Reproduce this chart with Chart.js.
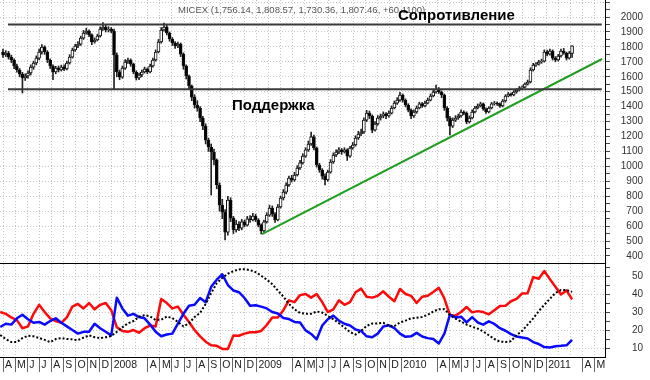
<!DOCTYPE html>
<html><head><meta charset="utf-8">
<script src="https://cdn.jsdelivr.net/npm/chart.js@4.4.1/dist/chart.umd.min.js"></script>
<style>
html,body{margin:0;padding:0;background:#fff;}
#wrap{position:relative;width:650px;height:380px;overflow:hidden;background:#fff;}
#top{position:absolute;left:0;top:0;width:650px;height:264px;}
#bot{position:absolute;left:0;top:264px;width:650px;height:116px;}
.lbl{position:absolute;font-family:"Liberation Sans",Arial,sans-serif;white-space:nowrap;line-height:1;}
#ttl{left:178px;top:5px;font-size:9.5px;color:#555;}
#res{left:398px;top:7px;font-size:15px;font-weight:bold;color:#000;}
#sup{left:232px;top:97px;font-size:15px;font-weight:bold;color:#000;}
</style></head>
<body><div id="wrap">
<canvas id="top" width="650" height="264"></canvas>
<canvas id="bot" width="650" height="116"></canvas>
<div class="lbl" id="ttl">MICEX (1,756.14, 1,808.57, 1,730.36, 1,807.46, +60.1100)</div>
<div class="lbl" id="res">Сопротивление</div>
<div class="lbl" id="sup">Поддержка</div>
</div>
<script>
// Weekly MICEX candles, first week = early April 2007
const opens = [
1766,1746,1759,1732,1712,1672,1645,1618,1592,1605,
1625,1665,1692,1725,1766,1799,1766,1712,1672,1632,
1658,1645,1665,1652,1692,1732,1779,1806,1819,1859,
1893,1906,1880,1833,1846,1873,1920,1933,1913,1920,
1906,1746,1632,1598,1658,1699,1712,1685,1632,1592,
1612,1632,1652,1632,1672,1712,1766,1833,1913,1933,
1893,1853,1826,1806,1819,1752,1672,1605,1538,1464,
1411,1391,1324,1270,1176,1130,1096,1043,875,741,
694,560,775,654,574,614,587,628,607,648,
641,668,641,607,567,628,674,721,681,641,
728,788,828,875,922,909,942,989,1023,1069,
1110,1150,1197,1123,1009,976,935,909,962,1029,
1076,1096,1110,1096,1110,1069,1123,1143,1190,1217,
1230,1310,1357,1337,1243,1284,1324,1337,1351,1337,
1357,1391,1424,1444,1478,1444,1411,1377,1337,1364,
1391,1418,1404,1424,1444,1471,1498,1518,1498,1478,
1391,1324,1270,1310,1324,1337,1364,1357,1297,1324,
1364,1391,1404,1418,1384,1364,1391,1418,1424,1418,
1404,1438,1471,1484,1478,1498,1511,1525,1531,1551,
1565,1645,1679,1685,1699,1705,1766,1752,1772,1725,
1712,1739,1772,1759,1725,1756];
const closes = [
1746,1759,1732,1712,1672,1645,1618,1592,1605,1625,
1665,1692,1725,1766,1799,1766,1712,1672,1632,1658,
1645,1665,1652,1692,1732,1779,1806,1819,1859,1893,
1906,1880,1833,1846,1873,1920,1933,1913,1920,1906,
1746,1632,1598,1658,1699,1712,1685,1632,1592,1612,
1632,1652,1632,1672,1712,1766,1833,1913,1933,1893,
1853,1826,1806,1819,1752,1672,1605,1538,1464,1411,
1391,1324,1270,1176,1130,1096,1043,875,741,694,
560,775,654,574,614,587,628,607,648,641,
668,641,607,567,628,674,721,681,641,728,
788,828,875,922,909,942,989,1023,1069,1110,
1150,1197,1123,1009,976,935,909,962,1029,1076,
1096,1110,1096,1110,1069,1123,1143,1190,1217,1230,
1310,1357,1337,1243,1284,1324,1337,1351,1337,1357,
1391,1424,1444,1478,1444,1411,1377,1337,1364,1391,
1418,1404,1424,1444,1471,1498,1518,1498,1478,1391,
1324,1270,1310,1324,1337,1364,1357,1297,1324,1364,
1391,1404,1418,1384,1364,1391,1418,1424,1418,1404,
1438,1471,1484,1478,1498,1511,1525,1531,1551,1565,
1645,1679,1685,1699,1705,1766,1752,1772,1725,1712,
1739,1772,1759,1725,1759,1807];
const highs = [
1785,1775,1770,1745,1720,1685,1655,1630,1620,1640,
1680,1705,1740,1785,1815,1808,1775,1720,1680,1670,
1672,1678,1680,1705,1748,1792,1818,1835,1872,1910,
1925,1915,1888,1860,1885,1935,1962,1945,1935,1930,
1920,1760,1645,1672,1715,1725,1720,1692,1640,1625,
1645,1665,1660,1685,1725,1780,1850,1930,1960,1945,
1900,1862,1835,1832,1826,1760,1680,1612,1545,1480,
1440,1400,1335,1285,1190,1150,1115,1050,890,780,
710,800,790,665,640,630,645,640,665,670,
685,680,650,615,640,690,740,735,690,745,
800,845,890,935,940,960,1005,1040,1085,1125,
1170,1230,1210,1130,1020,985,950,975,1045,1090,
1110,1125,1120,1125,1118,1135,1160,1205,1235,1250,
1325,1375,1370,1345,1300,1340,1350,1365,1360,1372,
1405,1438,1460,1495,1485,1452,1420,1385,1378,1405,
1430,1428,1438,1458,1485,1512,1545,1528,1505,1485,
1400,1335,1325,1340,1350,1378,1372,1365,1338,1378,
1402,1418,1430,1425,1392,1400,1428,1435,1432,1425,
1448,1480,1495,1492,1508,1520,1535,1540,1560,1578,
1660,1690,1695,1710,1718,1780,1778,1785,1780,1735,
1750,1785,1790,1765,1770,1809];
const lows = [
1730,1735,1718,1695,1655,1630,1600,1491,1575,1590,
1612,1650,1680,1715,1752,1750,1695,1655,1580,1620,
1632,1638,1640,1645,1685,1725,1770,1795,1810,1850,
1885,1868,1815,1825,1840,1865,1910,1900,1900,1895,
1518,1600,1580,1590,1650,1690,1670,1620,1578,1580,
1600,1625,1620,1625,1665,1705,1760,1825,1905,1880,
1838,1810,1790,1795,1735,1650,1585,1515,1440,1390,
1370,1300,1245,1150,1100,808,1010,850,700,650,
507,540,630,550,560,570,575,595,600,625,
635,630,595,547,560,620,665,665,625,635,
720,775,815,865,895,900,935,980,1015,1060,
1100,1140,1110,995,960,915,875,900,955,1020,
1065,1085,1080,1090,1040,1060,1115,1135,1180,1205,
1220,1300,1320,1225,1235,1275,1310,1325,1320,1330,
1350,1385,1415,1435,1430,1398,1365,1320,1328,1355,
1385,1395,1398,1418,1438,1465,1490,1488,1460,1375,
1305,1210,1260,1300,1315,1330,1345,1285,1290,1318,
1358,1385,1398,1375,1355,1358,1385,1410,1408,1395,
1398,1430,1465,1470,1472,1490,1505,1518,1525,1545,
1558,1638,1670,1678,1690,1698,1740,1745,1712,1700,
1705,1732,1750,1712,1718,1730];

// Indicator panel (one value every 2 weeks, starting one week before the first candle)
const redLine = [
30,29,27,25.5,21,22,29,34,30,26.5,
25,24,27,33,34.5,32,35,31.5,34,35,
31,21.5,19.5,19,20,18.5,21,22.5,22,37.3,
35,32,33,28.5,24.5,20,16.5,13.5,11.5,11.2,
9.5,9.5,17,16.8,18,18.8,18.8,19.5,22.8,27,
27,31,36.5,35.5,39.4,40,38,40,35.5,30,
31.5,36.5,34,35.5,41,43,38.5,38,39,41.5,
38.5,36,42.8,40,39,35,38.5,39,41.1,43.5,
37.5,28.3,28,30,32.8,29.8,30.5,30,28.7,31,
33.4,33.5,36,37.3,40.3,40.5,49.4,48.5,52.8,48.3,
44,39.8,42,37];
const blueLine = [
21.7,23.5,23,26.5,28.5,26,24,24.5,23,25,
26.5,24,22,20,18,19,19,23.5,21,19,
17,38,32,28,29,27.2,26.5,23,19,16.5,
17.5,18,23.5,29,33.5,34,37.8,35.5,44,48,
51,45,42,41,37.8,33.5,33.8,33,32,30,
29.2,26.7,26.1,24.5,24.2,19.8,17.8,14.8,22.5,26,
28,25.2,23.5,22.5,20.3,19.5,16.5,16,18,22,
22.6,21,18,16.2,16.5,18.4,16.4,15.5,15,12.5,
18,28.5,27,27.4,24.2,27.2,24.2,23,24.8,23.4,
21,19.6,17.7,16.4,15.8,15.3,13.3,12.2,10.5,10.3,
11,11.2,11.5,14.5];
const blackLine = [
17.2,15,13.3,13.3,15.5,16.8,16.5,15.6,14.5,13.3,
15,15.5,15,14.8,14.4,15.8,17,16,15.5,16,
16.7,19,21.5,23.7,25,27.3,28.3,27.5,25.6,25.8,
27.5,26.6,24.5,22,23.7,27.2,29.5,34.5,40.5,46,
49,51.3,52.7,53.7,53.8,53.3,52.2,50.2,48,45.5,
42,38.6,34.5,31.5,29.5,29,29,30.3,29.7,27.8,
26,23.8,21.4,18.9,17.5,19.5,22.3,23.6,23.6,24,
22.4,22.2,24.2,25.2,26.5,26.8,27.3,28.5,30.3,31.6,
31.6,28.3,26.3,24.7,23,21.8,20.8,19.2,17.1,15,
13.6,13.3,13.8,17.2,19.5,23,26.5,30.5,34,37.3,
40.6,42.2,42.2,41.2];

// Month labels from April 2007 to May 2011
const monthLabels = ['A','M','J','J','A','S','O','N','D','2008','','',
  'A','M','J','J','A','S','O','N','D','2009','','',
  'A','M','J','J','A','S','O','N','D','2010','','',
  'A','M','J','J','A','S','O','N','D','2011','','',
  'A','M'];
const priceTickLabels = [400,500,600,700,800,900,1000,1100,1200,1300,1400,1500,1600,1700,1800,1900,2000];
const indicatorTickLabels = [10,20,30,40,50];

// Annotated levels (price) and trend line ([week, price])
const resistanceLevel = 1950;
const supportLevel = 1516;
const levelSpanWeeks = [1.8, 215.7];
const trendLine = [[93.3, 547], [215.8, 1719]];

const WEEKS_PER_MONTH = 52.18 / 12;
const INDICATOR_STEP = 2, INDICATOR_START = -1;
const X_MIN = -1.081, X_MAX = 216.86;
const FONT = '"Liberation Sans", Arial, sans-serif';
const GRID = '#c6c6c6';
const CLEAR = 'rgba(0,0,0,0)';

Chart.defaults.font.family = FONT;
Chart.defaults.animation = false;

const monthTicks = () => monthLabels.map((l, m) => ({value: m * WEEKS_PER_MONTH, name: l}));
const noPad = s => { s.paddingTop = 0; s.paddingBottom = 0; s.paddingLeft = 0; s.paddingRight = 0; };

const weekIdx = closes.map((_, i) => i);
const wickData = weekIdx.map(i => ({x: i, y: [lows[i], highs[i]]}));
const bodyData = weekIdx.map(i => ({x: i, y: [opens[i], closes[i]]}));
const bodyColors = weekIdx.map(i => closes[i] >= opens[i] ? '#ffffff' : '#000000');

const allPriceTicks = [];
priceTickLabels.forEach(v => { allPriceTicks.push(v); allPriceTicks.push(v + 50); });
allPriceTicks.push(2100);

new Chart(document.getElementById('top'), {
  type: 'bar',
  data: {
    datasets: [
      {type: 'line', data: levelSpanWeeks.map(w => ({x: w, y: resistanceLevel})), borderColor: '#3a3a3a', borderWidth: 2, pointRadius: 0},
      {type: 'line', data: levelSpanWeeks.map(w => ({x: w, y: supportLevel})), borderColor: '#3a3a3a', borderWidth: 2, pointRadius: 0},
      {type: 'line', data: trendLine.map(p => ({x: p[0], y: p[1]})), borderColor: '#1f9e1f', borderWidth: 2, pointRadius: 0},
      {type: 'bar', data: bodyData, backgroundColor: bodyColors, borderColor: '#111', borderWidth: 1, borderSkipped: false, barThickness: 3, grouped: false},
      {type: 'bar', data: wickData, backgroundColor: '#222', borderWidth: 0, barThickness: 1, grouped: false}
    ]
  },
  options: {
    responsive: false, devicePixelRatio: 1,
    layout: {padding: {left: 0, top: 0, bottom: 0, right: 7}, autoPadding: false},
    plugins: {legend: {display: false}, tooltip: {enabled: false}, title: {display: false}},
    scales: {
      x: {
        type: 'linear', min: X_MIN, max: X_MAX, offset: false,
        afterBuildTicks: s => { s.ticks = monthTicks(); },
        ticks: {display: false, autoSkip: false},
        grid: {color: GRID, drawTicks: false, offset: false},
        border: {display: true, color: '#000', width: 1, dash: [1, 2]},
        afterFit: s => { s.height = 1; noPad(s); }
      },
      y: {
        position: 'right', min: 353, max: 2114, beginAtZero: false,
        afterBuildTicks: s => { s.ticks = allPriceTicks.map(v => ({value: v})); },
        ticks: {
          autoSkip: false, crossAlign: 'far', padding: 4, color: '#333',
          font: {family: FONT, size: 10},
          callback: v => (v % 100 === 0 && v <= 2000) ? String(v) : ''
        },
        grid: {
          color: c => (c.tick && c.tick.value % 100 === 0) ? GRID : CLEAR,
          tickColor: '#444', tickLength: 5
        },
        border: {display: true, color: '#000', width: 1, dash: [1, 2]},
        afterFit: s => { s.width = 38; noPad(s); }
      }
    }
  }
});

const indPoints = arr => arr.map((v, k) => ({x: INDICATOR_START + INDICATOR_STEP * k, y: v}));
const allIndTicks = [];
indicatorTickLabels.forEach(v => { allIndTicks.push(v); allIndTicks.push(v + 5); });

new Chart(document.getElementById('bot'), {
  type: 'line',
  data: {
    datasets: [
      {data: indPoints(blackLine), borderColor: '#000', borderWidth: 2, borderDash: [2, 2], pointRadius: 0, tension: 0},
      {data: indPoints(blueLine), borderColor: '#0a0aff', borderWidth: 2.5, pointRadius: 0, tension: 0, borderJoinStyle: 'round'},
      {data: indPoints(redLine), borderColor: '#ff0a0a', borderWidth: 2.5, pointRadius: 0, tension: 0, borderJoinStyle: 'round'}
    ]
  },
  options: {
    responsive: false, devicePixelRatio: 1,
    layout: {padding: {left: 0, top: 0, bottom: 0, right: 7}, autoPadding: false},
    plugins: {legend: {display: false}, tooltip: {enabled: false}, title: {display: false}},
    scales: {
      x: {
        type: 'linear', min: X_MIN, max: X_MAX, offset: false,
        afterBuildTicks: s => { s.ticks = monthTicks(); },
        ticks: {
          autoSkip: false, maxRotation: 0, minRotation: 0, align: 'start', labelOffset: 2,
          padding: -13, color: '#222', font: {family: FONT, size: 10.5},
          callback: (v, i, t) => t[i].name
        },
        grid: {
          color: GRID, offset: false, tickLength: 15,
          tickColor: c => (c.tick && c.tick.name) ? '#666' : CLEAR
        },
        border: {display: true, color: '#000', width: 1, dash: [1, 2]},
        afterFit: s => { s.height = 23; noPad(s); }
      },
      y: {
        position: 'right', min: 5, max: 56.7,
        afterBuildTicks: s => { s.ticks = allIndTicks.map(v => ({value: v})); },
        ticks: {
          autoSkip: false, crossAlign: 'far', padding: 14.5, color: '#333',
          font: {family: FONT, size: 10},
          callback: v => (v % 10 === 0) ? String(v) : ''
        },
        grid: {
          color: c => (c.tick && c.tick.value % 10 === 0) ? GRID : CLEAR,
          tickColor: '#444', tickLength: 5
        },
        border: {display: true, color: '#000', width: 1, dash: [1, 2]},
        afterFit: s => { s.width = 38; noPad(s); }
      }
    }
  }
});
</script>
</body></html>
